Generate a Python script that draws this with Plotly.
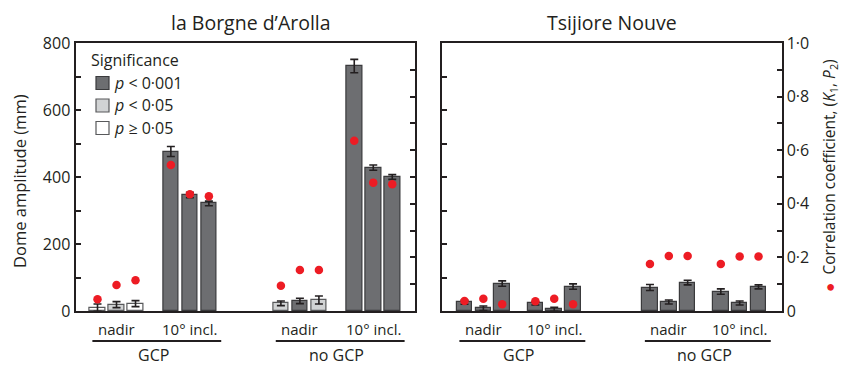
import plotly.graph_objects as go

# ---------------- data ----------------
sites = ["GCP", "no GCP"]
views = ["nadir", "10° incl."]
n_per_group = 3

arolla_amp = [10, 19, 22, 476, 346, 321, 23, 30, 33, 731, 428, 400]
arolla_err = [11, 9, 9, 15, 8, 7, 7, 8, 12, 20, 8, 7]
arolla_corr = [0.044, 0.097, 0.115, 0.545, 0.436, 0.428, 0.094, 0.153, 0.153, 0.635, 0.479, 0.473]
arolla_sig = ["ns", "p05", "ns", "p001", "p001", "p001",
              "p05", "p001", "p05", "p001", "p001", "p001"]

tsij_amp = [26, 8, 82, 23, 5, 73, 70, 27, 85, 58, 24, 72]
tsij_err = [6, 7, 8, 5, 6, 8, 9, 6, 7, 8, 6, 6]
tsij_corr = [0.037, 0.046, 0.025, 0.036, 0.046, 0.025, 0.175, 0.205, 0.205, 0.175, 0.203, 0.203]
tsij_sig = ["p001"] * 12

amp_major = [0, 200, 400, 600, 800]
amp_labels = ["0", "200", "400", "600", "800"]
amp_minor = [100, 300, 500, 700]
corr_major = [0, 0.2, 0.4, 0.6, 0.8, 1.0]
corr_labels = ["0", "0·2", "0·4", "0·6", "0·8", "1·0"]
corr_minor = [0.1, 0.3, 0.5, 0.7, 0.9]

legend_keys = ["p001", "p05", "ns"]
legend_texts = ["<i>p</i> < 0·001", "<i>p</i> < 0·05", "<i>p</i> ≥ 0·05"]

# ---------------- styles ----------------
W, H = 841, 365
FONT = "Open Sans"
INK = "#231f20"
RED = "#ed1c24"
FILL = {"p001": "#6d6e71", "p05": "#d1d3d4", "ns": "#ffffff"}
EDGE = {"p001": "#3a3a3c", "p05": "#58595b", "ns": "#58595b"}


def px(x):
    return x / W


def py(y):
    return (H - y) / H


def positions(site_off, view_off):
    out = []
    for s in range(len(sites)):
        for v in range(len(views)):
            for i in range(n_per_group):
                out.append(s * site_off + v * view_off + i)
    return out


pos_l = positions(9.65, 3.86)
pos_r = positions(9.84, 3.76)

fig = go.Figure()

for xa, ya, yc, pos, amp, err, corr, sig in [
    ("x", "y", "y3", pos_l, arolla_amp, arolla_err, arolla_corr, arolla_sig),
    ("x2", "y2", "y4", pos_r, tsij_amp, tsij_err, tsij_corr, tsij_sig),
]:
    fig.add_trace(go.Bar(
        x=pos, y=amp, width=0.82, xaxis=xa, yaxis=ya, showlegend=False,
        marker=dict(color=[FILL[s] for s in sig],
                    line=dict(color=[EDGE[s] for s in sig], width=1.2)),
        error_y=dict(type="data", array=err, color=INK, thickness=1.6, width=4),
    ))
    fig.add_trace(go.Scatter(
        x=pos, y=corr, xaxis=xa, yaxis=yc, mode="markers", showlegend=False,
        marker=dict(color=RED, size=8.5, line=dict(width=0)),
    ))

dom_y = [py(311), py(43)]
minor_style = dict(ticks="inside", ticklen=5, tickwidth=1.5, tickcolor=INK, showgrid=False)
axis_common = dict(showgrid=False, zeroline=False, linecolor=INK, linewidth=2,
                   tickcolor=INK, tickwidth=1.5, ticklen=5, automargin=False,
                   tickfont=dict(family=FONT, size=16, color=INK))

fig.update_layout(
    width=W, height=H, margin=dict(l=0, r=0, t=0, b=0, autoexpand=False),
    paper_bgcolor="white", plot_bgcolor="white",
    bargap=0,
    xaxis=dict(domain=[px(75.5), px(414.5)], range=[-1.158, 16.68], automargin=False,
               showline=True, mirror=True, showticklabels=False, ticks="",
               showgrid=False, zeroline=False, linecolor=INK, linewidth=2),
    xaxis2=dict(domain=[px(442), px(781.7)], range=[-1.194, 16.83], automargin=False,
                showline=True, mirror=True, showticklabels=False, ticks="",
                showgrid=False, zeroline=False, linecolor=INK, linewidth=2),
    yaxis=dict(domain=dom_y, range=[0, 800], anchor="x", showline=True, mirror=True,
               ticks="inside", tickvals=amp_major, ticktext=amp_labels,
               minor=dict(tickvals=amp_minor, **minor_style), **axis_common),
    yaxis2=dict(domain=dom_y, range=[0, 800], anchor="x2", showline=True, mirror=True,
                ticks="inside", tickvals=amp_major[1:-1], showticklabels=False,
                minor=dict(tickvals=amp_minor, **minor_style), **axis_common),
    yaxis3=dict(range=[0, 1], overlaying="y", anchor="x", side="right",
                showline=False, ticks="inside", tickvals=corr_major[1:-1],
                showticklabels=False,
                minor=dict(tickvals=corr_minor, **minor_style), **axis_common),
    yaxis4=dict(range=[0, 1], overlaying="y2", anchor="x2", side="right",
                showline=False, ticks="inside", tickvals=corr_major,
                ticktext=corr_labels, ticklabelstandoff=4,
                minor=dict(tickvals=corr_minor, **minor_style), **axis_common),
)

ann = []
shapes = []

# panel titles
ann.append(dict(text="la Borgne d’Arolla", x=px(251), y=py(23), xref="paper", yref="paper",
                showarrow=False, font=dict(family=FONT, size=19.5, color=INK),
                xanchor="center", yanchor="middle"))
ann.append(dict(text="Tsijiore Nouve", x=px(612), y=py(23), xref="paper", yref="paper",
                showarrow=False, font=dict(family=FONT, size=19.5, color=INK),
                xanchor="center", yanchor="middle"))

# axis titles
ann.append(dict(text="Dome amplitude (mm)", x=px(19), y=py(181), xref="paper", yref="paper",
                showarrow=False, textangle=-90, font=dict(family=FONT, size=16.5, color=INK),
                xanchor="center", yanchor="middle"))
ann.append(dict(text=f'<span style="color:{RED}">●</span>  Correlation coefficient, '
                     '(<i>K</i><sub>1</sub>, <i>P</i><sub>2</sub>)',
                x=px(829), y=py(176), xref="paper", yref="paper",
                showarrow=False, textangle=-90, font=dict(family=FONT, size=15.5, color=INK),
                xanchor="center", yanchor="middle"))

# group labels below each panel
for xref, pos in [("x", pos_l), ("x2", pos_r)]:
    for s, site in enumerate(sites):
        block = pos[s * 6:(s + 1) * 6]
        for v, view in enumerate(views):
            grp = block[v * 3:(v + 1) * 3]
            ann.append(dict(text=view, x=sum(grp) / 3, y=py(329), xref=xref, yref="paper",
                            showarrow=False, font=dict(family=FONT, size=15, color=INK),
                            xanchor="center", yanchor="middle"))
        shapes.append(dict(type="line", xref=xref, yref="paper",
                           x0=block[0] - 0.27, x1=block[-1] + 0.65,
                           y0=py(341), y1=py(341), line=dict(color=INK, width=2)))
        ann.append(dict(text=site, x=(block[0] + block[-1]) / 2, y=py(355), xref=xref,
                        yref="paper", showarrow=False,
                        font=dict(family=FONT, size=16, color=INK),
                        xanchor="center", yanchor="middle"))

# significance legend
ann.append(dict(text="Significance", x=px(89), y=py(60), xref="paper", yref="paper",
                showarrow=False, font=dict(family=FONT, size=16, color=INK),
                xanchor="left", yanchor="middle"))
for k, (key, txt) in enumerate(zip(legend_keys, legend_texts)):
    yc = 83 + k * 22.5
    shapes.append(dict(type="rect", xref="paper", yref="paper",
                       x0=px(96), x1=px(109), y0=py(yc + 6.5), y1=py(yc - 6.5),
                       fillcolor=FILL[key], line=dict(color=EDGE[key], width=1.2)))
    ann.append(dict(text=txt, x=px(112), y=py(yc), xref="paper", yref="paper",
                    showarrow=False, font=dict(family=FONT, size=16, color=INK),
                    xanchor="left", yanchor="middle"))

fig.update_layout(annotations=ann, shapes=shapes)
fig.write_html("out.html")
